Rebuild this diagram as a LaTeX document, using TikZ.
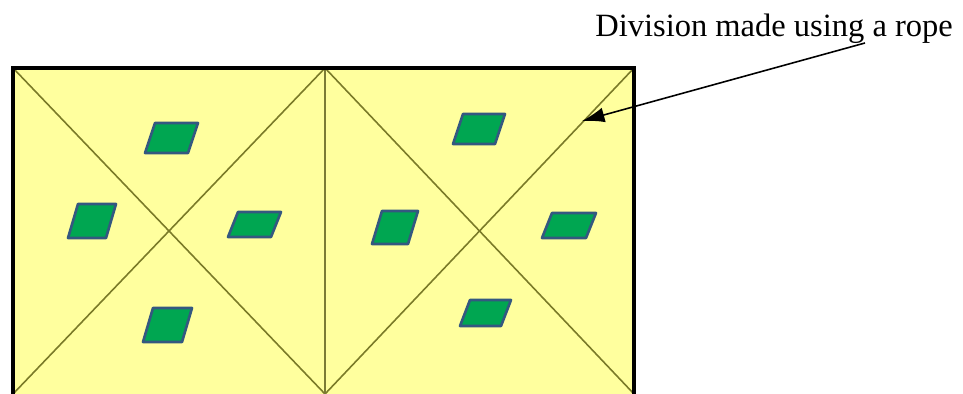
\documentclass[tikz,border=0pt]{standalone}
\usepackage{fontspec}
\setmainfont{Liberation Serif}
\usetikzlibrary{arrows.meta, positioning}
\definecolor{fieldyellow}{RGB}{255,255,158}
\definecolor{plotgreen}{RGB}{0,166,81}
\definecolor{plotedge}{RGB}{52,88,128}
\definecolor{ropeolive}{RGB}{122,122,40}
\begin{document}
\begin{tikzpicture}[x=0.02cm, y=-0.02cm,
    frame/.style={line width=2.2pt, black},
    rope/.style={line width=0.9pt, ropeolive},
    plot/.style={fill=plotgreen, draw=plotedge, line width=1.5pt, line join=round}]
    \useasboundingbox (0,0) rectangle (963,394);
    \fill[fieldyellow] (13,68) rectangle (634,400);
    % ropes
    \draw[rope] (13,68) -- (325,394);
    \draw[rope] (325,68) -- (13,394);
    \draw[rope] (325,68) -- (634,394);
    \draw[rope] (634,68) -- (325,394);
    \draw[line width=1.2pt, ropeolive!85!gray] (325,68) -- (325,400);
    \draw[frame] (13,400) -- (13,68) -- (634,68) -- (634,400);
    % plots
    \foreach \x/\y/\w/\h in {145/153/43/30, 68/238/38/34, 228/237/43/25, 143/342/39/34,
                             453/144/42/30, 372/244/36/33, 542/238/44/25, 460/326/41/26}
        \draw[plot] (\x,\y) -- ++(\w,0) -- ++(10,-\h) -- ++(-\w,0) -- cycle;
    \node[anchor=base west, inner sep=0pt, font=\fontsize{18.5}{20}\selectfont] (label) at (595,37) {Division made using a rope};
    \coordinate (tip) at (582,121);
    \draw[line width=0.9pt, -{Latex[length=4.5mm, width=3mm]}] (865,43) -- (tip);
\end{tikzpicture}
\end{document}
